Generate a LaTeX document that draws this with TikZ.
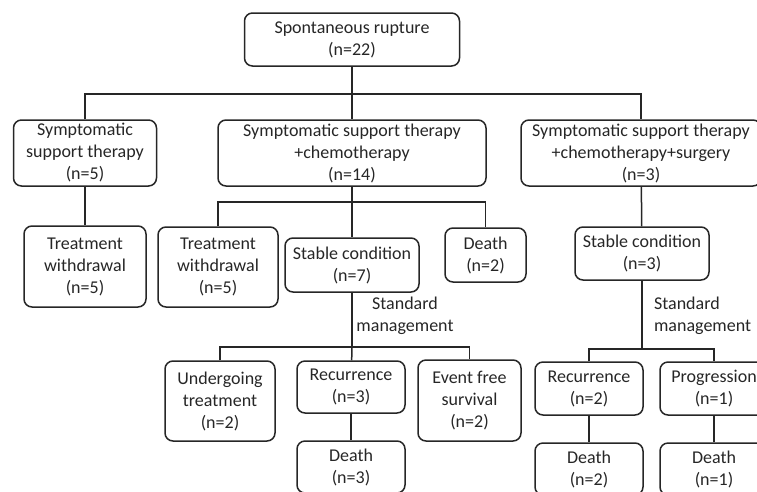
\documentclass[tikz,border=0pt]{standalone}
\usepackage{fontspec}
\setmainfont{Carlito}
\usetikzlibrary{positioning}
\begin{document}
\begin{tikzpicture}[x=1pt, y=-1pt, line width=1.5pt, draw=black!85,
  every node/.style={font=\fontsize{18}{22}\selectfont, text=black!85},
  box/.style={draw, rounded corners=8pt, align=center, inner sep=0pt}]
\useasboundingbox (0,0) rectangle (757,491);
\clip (0,0) rectangle (757,491);
% first row
\node[box, minimum width=215pt, minimum height=53pt] (top) at (352,39.5) {Spontaneous rupture\\(n=22)};
\node[box, minimum width=143pt, minimum height=66pt] (sst) at (85,153) {Symptomatic\\support therapy\\(n=5)};
\node[box, minimum width=268pt, minimum height=66pt] (ssc) at (352,153) {Symptomatic support therapy\\+chemotherapy\\(n=14)};
\node[box, minimum width=240pt, minimum height=66pt] (sscs) at (641,153) {Symptomatic support therapy\\+chemotherapy+surgery\\(n=3)};
% second row
\node[box, minimum width=122pt, minimum height=81pt] (tw1) at (85,266.5) {Treatment\\withdrawal\\(n=5)};
\node[box, minimum width=120pt, minimum height=80pt] (tw2) at (218,267) {Treatment\\withdrawal\\(n=5)};
\node[box, minimum width=134pt, minimum height=54pt] (stable7) at (352,265) {Stable condition\\(n=7)};
\node[box, minimum width=81pt, minimum height=54pt] (death2) at (485.5,255) {Death\\(n=2)};
\node[box, minimum width=134pt, minimum height=53pt] (stable3) at (642,253.5) {Stable condition\\(n=3)};
\node[align=center] (mgmt1) at (405,316) {Standard\\management};
\node[align=left, anchor=west] (mgmt2) at (650,316) {Standard\\management};
% third row
\node[box, minimum width=110pt, minimum height=80pt] (undergo) at (220,401) {Undergoing\\treatment\\(n=2)};
\node[box, minimum width=108pt, minimum height=52pt] (rec3) at (351,387) {Recurrence\\(n=3)};
\node[box, minimum width=103pt, minimum height=81pt] (efs) at (469.5,400.5) {Event free\\survival\\(n=2)};
\node[box, minimum width=108pt, minimum height=53pt] (rec2) at (589,388.5) {Recurrence\\(n=2)};
\node[box, minimum width=108pt, minimum height=53pt] (prog1) at (714,388.5) {Progression\\(n=1)};
% fourth row
\node[box, minimum width=108pt, minimum height=52pt] (death3) at (351,467) {Death\\(n=3)};
\node[box, minimum width=108pt, minimum height=52pt] (deathr2) at (589,469) {Death\\(n=2)};
\node[box, minimum width=108pt, minimum height=52pt] (death1) at (714,469) {Death\\(n=1)};
% connectors
\coordinate[below=27pt of top.south] (split0);
\coordinate[below=15pt of ssc.south] (split1);
\coordinate[below=54pt of stable7.south] (split2);
\coordinate[below=68pt of stable3.south] (split3);
\draw (top) -- (split0);
\draw (sst) |- (split0) -| (sscs);
\draw (split0) -- (ssc);
\draw (sst) -- (tw1);
\draw (ssc) -- (split1);
\draw (tw2) |- (split1) -| (death2);
\draw (split1) -- (stable7);
\draw (stable7) -- (split2);
\draw (undergo) |- (split2) -| (efs);
\draw (split2) -- (rec3);
\draw (rec3) -- (death3);
\draw (sscs) -- (stable3);
\draw (stable3) -- (split3);
\draw (rec2) |- (split3) -| (prog1);
\draw (rec2) -- (deathr2);
\draw (prog1) -- (death1);
\end{tikzpicture}
\end{document}
